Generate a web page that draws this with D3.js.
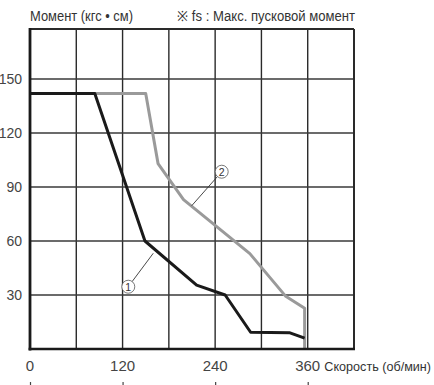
<!DOCTYPE html>
<html><head><meta charset="utf-8">
<script src="https://cdn.jsdelivr.net/npm/d3@7"></script>
<style>html,body{margin:0;padding:0;background:#fff;}svg{display:block;}</style>
</head><body>
<svg id="c" width="434" height="385"></svg>
<script>
// ---- data ----
const xTicks = [0, 120, 240, 360];
const yTicks = [30, 60, 90, 120, 150];
const xGrid = [0, 60, 120, 180, 240, 300, 360, 420];
const yGrid = [30, 60, 90, 120, 150];
// series 1 (black)
const s1Speed  = [0, 84, 149, 216, 253, 286, 337, 356];
const s1Torque = [142, 142, 60, 35.5, 30, 9.3, 9, 6];
// series 2 (gray)
const s2Speed  = [0, 150, 166, 199, 285, 331, 356, 356];
const s2Torque = [142, 142, 103, 83, 53, 29.5, 22.6, 0];
// callouts: label, circle position, leader end
const calloutLabels = ["①", "②"];
const calloutAt = [[127.4, 34.6], [248.5, 98.5]];
const calloutTo = [[159.8, 53.2], [209.6, 79.6]];
const yTitle = "Момент (кгс • см)";
const note = "※ fs : Макс. пусковой момент";
const xTitle = "Скорость (об/мин)";

// ---- layout ----
const svg = d3.select("#c");
const x = d3.scaleLinear().domain([0, 420]).range([30, 354]);
const y = d3.scaleLinear().domain([0, 177.8]).range([349, 29]);
const font = "'Liberation Sans', Arial, sans-serif";

// grid
svg.append("g").selectAll("line").data(xGrid.slice(1, -1)).join("line")
  .attr("x1", d => x(d)).attr("x2", d => x(d)).attr("y1", y(0)).attr("y2", y(177.8))
  .attr("stroke", "#2a2a2a").attr("stroke-width", 1.4);
svg.append("g").selectAll("line").data(yGrid).join("line")
  .attr("x1", x(0)).attr("x2", x(420)).attr("y1", d => y(d)).attr("y2", d => y(d))
  .attr("stroke", "#3a3a3a").attr("stroke-width", 1.4);

// frame
svg.append("line").attr("x1", x(0)).attr("x2", x(420)).attr("y1", y(177.8)).attr("y2", y(177.8))
  .attr("stroke", "#2a2a2a").attr("stroke-width", 2.2);
svg.append("line").attr("x1", x(420)).attr("x2", x(420)).attr("y1", y(0)).attr("y2", y(177.8))
  .attr("stroke", "#2a2a2a").attr("stroke-width", 2);

// lines
const line = d3.line().x(d => x(d[0])).y(d => y(d[1]));
svg.append("path").datum(d3.zip(s2Speed, s2Torque)).attr("d", line)
  .attr("fill", "none").attr("stroke", "#9a9a9a").attr("stroke-width", 3).attr("stroke-linejoin", "round");
svg.append("path").datum(d3.zip(s1Speed, s1Torque)).attr("d", line)
  .attr("fill", "none").attr("stroke", "#1a1a1a").attr("stroke-width", 3).attr("stroke-linejoin", "round");

// axis lines (thick left and bottom)
svg.append("line").attr("x1", x(0)).attr("x2", x(0)).attr("y1", y(0) + 1.5).attr("y2", y(177.8) - 1)
  .attr("stroke", "#1a1a1a").attr("stroke-width", 2.8);
svg.append("line").attr("x1", x(0) - 1.4).attr("x2", x(420) + 1).attr("y1", y(0)).attr("y2", y(0))
  .attr("stroke", "#1a1a1a").attr("stroke-width", 2.6);

// callouts
const r = 6.5;
calloutLabels.forEach((lab, i) => {
  const cx = x(calloutAt[i][0]), cy = y(calloutAt[i][1]);
  const tx = x(calloutTo[i][0]), ty = y(calloutTo[i][1]);
  const ang = Math.atan2(ty - cy, tx - cx);
  svg.append("line").attr("x1", cx + r * Math.cos(ang)).attr("y1", cy + r * Math.sin(ang))
    .attr("x2", tx).attr("y2", ty).attr("stroke", "#333").attr("stroke-width", 0.9);
  svg.append("circle").attr("cx", cx).attr("cy", cy).attr("r", r)
    .attr("fill", "#fff").attr("stroke", "#555").attr("stroke-width", 0.8);
  svg.append("text").attr("x", cx).attr("y", cy + 3.8).attr("text-anchor", "middle")
    .attr("font-family", font).attr("font-size", 10.5).attr("fill", "#333")
    .text(String(i + 1));
});

// tick labels
svg.append("g").selectAll("text").data(yTicks).join("text")
  .attr("x", 22).attr("y", d => y(d) + 5).attr("text-anchor", "end")
  .attr("font-family", font).attr("font-size", 14).attr("fill", "#444")
  .text(d => d);
svg.append("g").selectAll("text").data(xTicks).join("text")
  .attr("x", d => x(d)).attr("y", 371).attr("text-anchor", "middle")
  .attr("font-family", font).attr("font-size", 15).attr("fill", "#444")
  .text(d => d);
// tiny marks at bottom edge
svg.append("g").selectAll("line").data(xTicks).join("line")
  .attr("x1", d => x(d) + 0.5).attr("x2", d => x(d) + 0.5).attr("y1", 382).attr("y2", 386)
  .attr("stroke", "#444").attr("stroke-width", 1.2);

// titles
svg.append("text").attr("x", 30).attr("y", 21).attr("font-family", font).attr("font-size", 14)
  .attr("fill", "#333").attr("textLength", 103).attr("lengthAdjust", "spacingAndGlyphs").text(yTitle);
svg.append("text").attr("x", 177).attr("y", 21).attr("font-family", font).attr("font-size", 14)
  .attr("fill", "#333").attr("textLength", 178).attr("lengthAdjust", "spacingAndGlyphs").text(note);
svg.append("text").attr("x", 431).attr("y", 371).attr("text-anchor", "end")
  .attr("font-family", font).attr("font-size", 12.6).attr("fill", "#333").text(xTitle);
</script>
</body></html>
